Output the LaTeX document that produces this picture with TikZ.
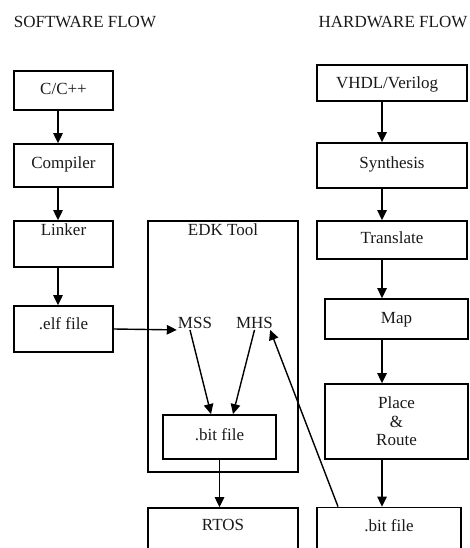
\documentclass[tikz,border=0pt]{standalone}
\usepackage{fontspec}
\setmainfont{Liberation Serif}
\usetikzlibrary{arrows.meta}
\begin{document}
\begin{tikzpicture}[x=1pt,y=-1pt,
  box/.style={draw, line width=1.8pt, inner sep=0pt, rectangle},
  tb/.style 2 args={text height=#1pt, text depth=#2pt},
  arr/.style={line width=1.4pt, -{Triangle[length=10pt,width=9.5pt]}},
  lbl/.style={inner sep=1pt},
  font=\fontsize{17}{18.5}\selectfont, text=black!90]
\useasboundingbox (0,0) rectangle (469,548);
\clip (0,0) rectangle (469,548);
% headings
\node[lbl] (swh) at (85,22) {SOFTWARE FLOW};
\node[lbl] (hwh) at (393,22) {HARDWARE FLOW};
% software flow
\node[box, minimum width=99, tb={23.5}{15.5}] (cpp) at (63.5,90.5) {C/C++};
\node[box, minimum width=99, tb={24.5}{18.5}] (comp) at (63.5,165.5) {Compiler};
\node[box, minimum width=99, tb={14.5}{31.5}] (link) at (63.5,244) {Linker};
\node[box, minimum width=99, tb={23.5}{22.5}] (elf) at (63.5,329) {.elf file};
% EDK
\node[box, minimum width=150, tb={14.5}{236.5}] (edk) at (223,346.5) {EDK Tool};
\node[box, minimum width=113, tb={25.5}{18.5}] (ebit) at (219.5,437) {.bit file};
\node[box, minimum width=150, tb={22.5}{40}] (rtos) at (223,539.25) {RTOS};
\node[lbl] (mss) at (195,323) {MSS};
\node[lbl] (mhs) at (254.5,323) {MHS};
% hardware flow
\node[box, minimum width=150, tb={23.5}{12.5}] (vhdl) at (392,83) {VHDL/Verilog\hspace*{10pt}};
\node[box, minimum width=150, tb={25.5}{19.5}] (syn) at (392,165.5) {Synthesis};
\node[box, minimum width=150, tb={22.5}{15.5}] (tra) at (392,240) {Translate};
\node[box, minimum width=143, tb={24.5}{15.5}] (map) at (396.5,319) {Map};
\node[box, minimum width=143, minimum height=75, align=center] (par) at (396.5,421.5) {Place\\\&\\Route};
\node[box, minimum width=144, tb={23.5}{40}] (hbit) at (389,539.25) {.bit file};
% arrows software
\draw[arr] ([xshift=-5.5]cpp.south) -- ([xshift=-5.5]comp.north);
\draw[arr] ([xshift=-5.5]comp.south) -- ([xshift=-5.5]link.north);
\draw[arr] ([xshift=-5.5]link.south) -- ([xshift=-5.5]elf.north);
\draw[arr] (elf.east) -- (mss.south west);
\draw[arr] ([xshift=-5]mss.south) -- ([xshift=-8.5]ebit.north);
\draw[arr] (mhs.south) -- ([xshift=13.5]ebit.north);
\draw[arr] (ebit.south) -- ([xshift=-3.5]rtos.north);
\draw[arr] ([xshift=-51]hbit.north) -- ([xshift=-4]mhs.south east);
% arrows hardware
\draw[arr] ([xshift=-10]vhdl.south) -- ([xshift=-10]syn.north);
\draw[arr] ([xshift=-10]syn.south) -- ([xshift=-10]tra.north);
\draw[arr] ([xshift=-10]tra.south) -- ([xshift=-14.5]map.north);
\draw[arr] ([xshift=-14.5]map.south) -- ([xshift=-14.5]par.north);
\draw[arr] ([xshift=-14.5]par.south) -- ([xshift=-7]hbit.north);
\end{tikzpicture}
\end{document}
